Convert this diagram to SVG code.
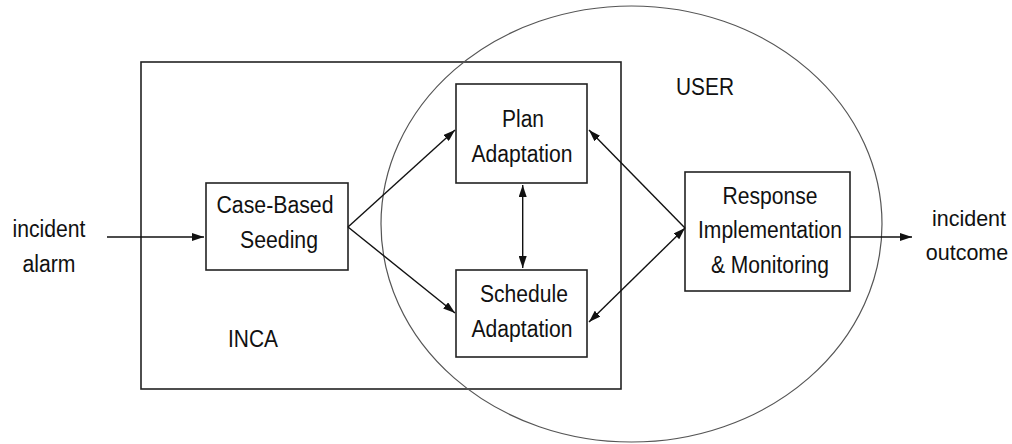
<svg xmlns="http://www.w3.org/2000/svg" width="1012" height="444" viewBox="0 0 1012 444">
<style>
.box{fill:none;stroke:#222;stroke-width:1.6}
.t{font-family:"Liberation Sans",Arial,sans-serif;font-size:23px;fill:#111;text-anchor:middle}
.r{font-size:21.5px}
.c{fill:none;stroke:#111;stroke-width:1.4}
</style>
<defs>
<marker id="ah" viewBox="0 0 12 8" refX="12" refY="4" markerWidth="12" markerHeight="8" markerUnits="userSpaceOnUse" orient="auto-start-reverse">
<path d="M0,0 L12,4 L0,8 Z" fill="#111"/>
</marker>
</defs>
<rect x="0" y="0" width="1012" height="444" fill="#fff"/>
<g id="inca">
<rect class="box" x="141" y="62" width="480" height="327"/>
<text class="t" x="253" y="347" textLength="50" lengthAdjust="spacingAndGlyphs">INCA</text>
</g>
<g id="user">
<ellipse cx="631.5" cy="224" rx="250.5" ry="218" fill="none" stroke="#555" stroke-width="1.2"/>
<text class="t" x="705" y="95" textLength="58" lengthAdjust="spacingAndGlyphs">USER</text>
</g>
<g id="seeding">
<rect class="box" x="206" y="183" width="142" height="87"/>
<text class="t" x="275" y="213" textLength="117" lengthAdjust="spacingAndGlyphs">Case-Based</text>
<text class="t" x="279" y="248" textLength="78" lengthAdjust="spacingAndGlyphs">Seeding</text>
</g>
<g id="plan">
<rect class="box" x="456" y="84" width="131" height="99"/>
<text class="t" x="523" y="127" textLength="42" lengthAdjust="spacingAndGlyphs">Plan</text>
<text class="t" x="522" y="162" textLength="101" lengthAdjust="spacingAndGlyphs">Adaptation</text>
</g>
<g id="schedule">
<rect class="box" x="456" y="270" width="131" height="87"/>
<text class="t" x="524" y="302" textLength="88" lengthAdjust="spacingAndGlyphs">Schedule</text>
<text class="t" x="522" y="337" textLength="101" lengthAdjust="spacingAndGlyphs">Adaptation</text>
</g>
<g id="response">
<rect class="box" x="685" y="172" width="165" height="119"/>
<text class="t" x="770" y="204" textLength="95" lengthAdjust="spacingAndGlyphs">Response</text>
<text class="t" x="770" y="238" textLength="144" lengthAdjust="spacingAndGlyphs">Implementation</text>
<text class="t" x="770" y="273" textLength="118" lengthAdjust="spacingAndGlyphs">&amp; Monitoring</text>
</g>
<g id="alarm">
<text class="t" x="49" y="237" textLength="73" lengthAdjust="spacingAndGlyphs">incident</text>
<text class="t" x="49" y="272" textLength="53" lengthAdjust="spacingAndGlyphs">alarm</text>
</g>
<g id="outcome">
<text class="t r" x="969" y="226">incident</text>
<text class="t r" x="967" y="260">outcome</text>
</g>
<g id="connectors">
<line class="c" x1="107" y1="237" x2="204" y2="237" marker-end="url(#ah)"/>
<line class="c" x1="348" y1="227" x2="455" y2="130" marker-end="url(#ah)"/>
<line class="c" x1="348" y1="227" x2="455" y2="313" marker-end="url(#ah)"/>
<line class="c" x1="522.7" y1="185" x2="522.7" y2="268" marker-start="url(#ah)" marker-end="url(#ah)"/>
<line class="c" x1="685" y1="228" x2="589" y2="130" marker-end="url(#ah)"/>
<line class="c" x1="685" y1="228" x2="589" y2="322" marker-start="url(#ah)" marker-end="url(#ah)"/>
<line class="c" x1="850" y1="237" x2="912" y2="237" marker-end="url(#ah)"/>
</g>
</svg>
